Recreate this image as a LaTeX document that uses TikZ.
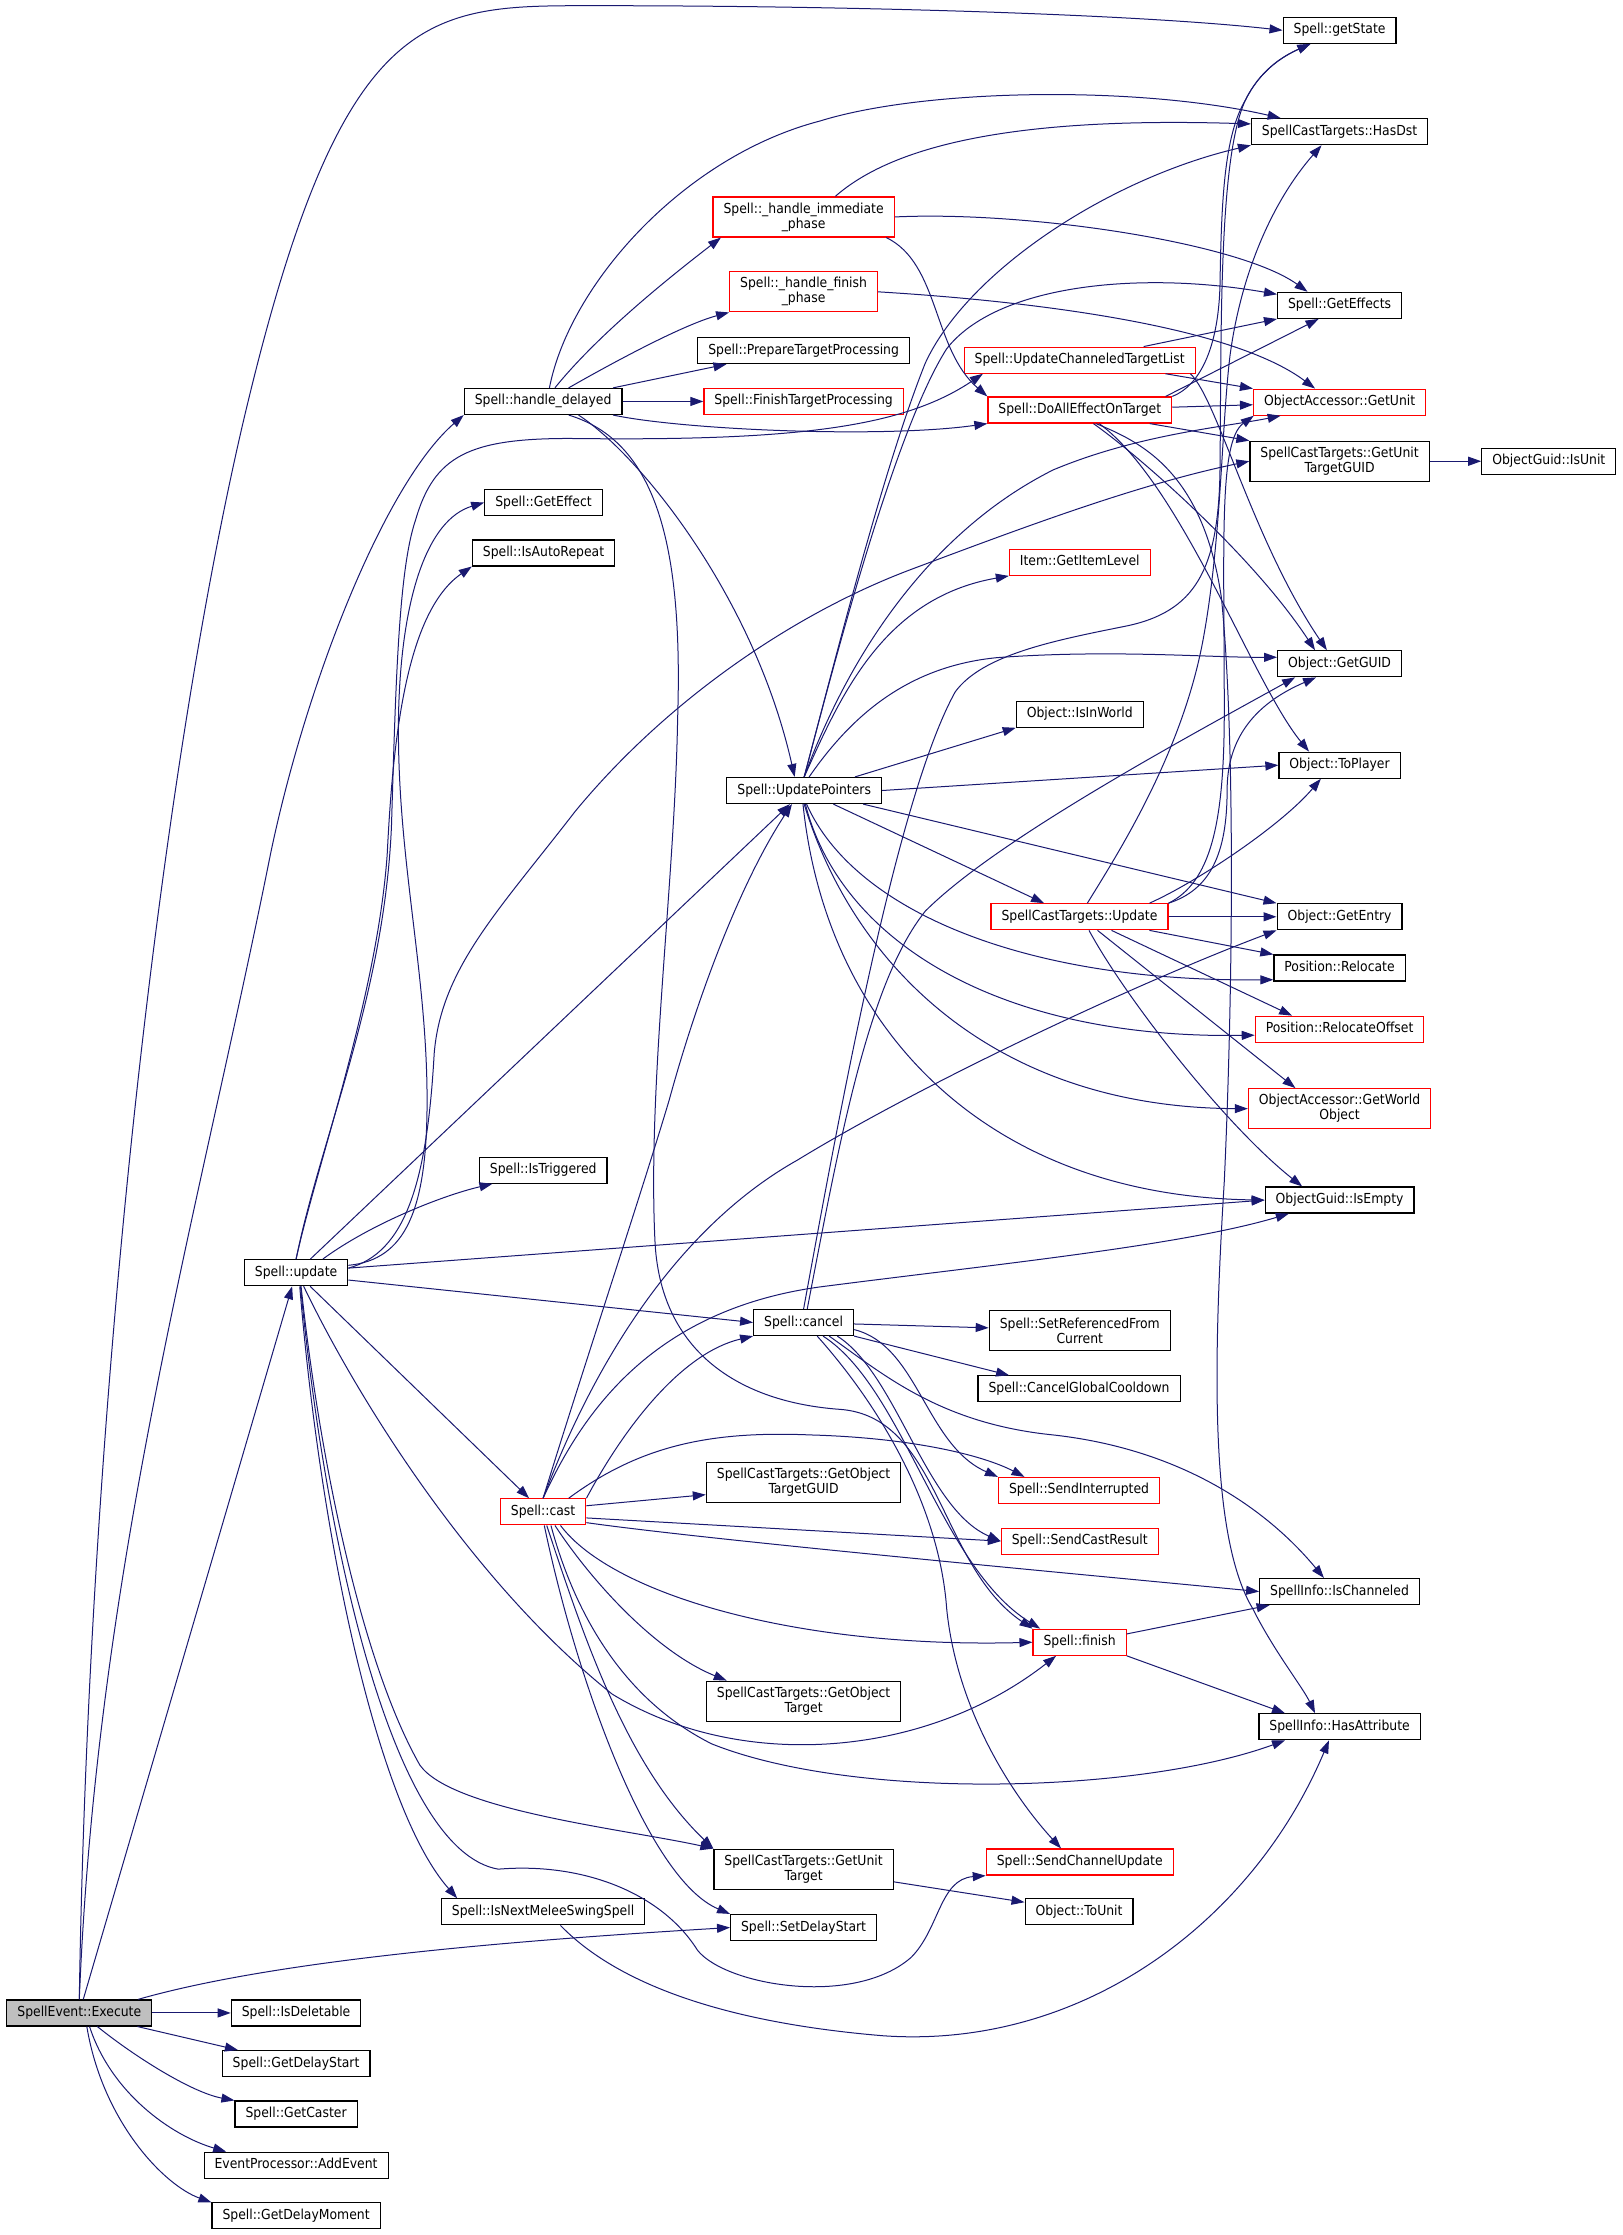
\documentclass[tikz,border=0pt]{standalone}
\usepackage{fontspec}
\setmainfont{DejaVu Sans Condensed}
\usetikzlibrary{arrows.meta}
\definecolor{MidBlue}{RGB}{25,25,112}
\begin{document}
\begin{tikzpicture}[x=1.4237pt,y=-1.4237pt,>={Triangle[length=13pt,width=9pt]},font=\fontsize{13.8}{15}\selectfont]
            \tikzset{Func/.style={draw=black,fill=white,line width=1.2pt,inner xsep=10.5pt,inner ysep=0pt,minimum height=26pt,text height=10pt,text depth=3pt}}
            \tikzset{Func2/.style={draw=black,fill=white,line width=1.2pt,inner xsep=10.5pt,inner ysep=5pt,minimum height=40pt,align=center}}
            \tikzset{Cut/.style={Func,draw=red}, Cut2/.style={Func2,draw=red}, Root/.style={Func,fill=black!25}}
            \tikzset{Edge/.style={->,draw=MidBlue,line width=1pt}}
            \path[use as bounding box,fill=white] (0,0) rectangle (1140,1570);
            \node[Func] (gs) at (941,21.3) {Spell::getState};
            \node[Func] (hdst) at (941,92.5) {SpellCastTargets::HasDst};
            \node[Cut2] (himm) at (564.5,152.4) {Spell::\_handle\_immediate\\\_phase};
            \node[Cut2] (hfin) at (564.5,205) {Spell::\_handle\_finish\\\_phase};
            \node[Func] (geffs) at (941,214.5) {Spell::GetEffects};
            \node[Func] (prep) at (564.5,246.3) {Spell::PrepareTargetProcessing};
            \node[Cut] (uctl) at (758.4,253) {Spell::UpdateChanneledTargetList};
            \node[Func] (hdel) at (381.5,282) {Spell::handle\_delayed};
            \node[Cut] (ftp) at (564.5,282) {Spell::FinishTargetProcessing};
            \node[Cut] (doall) at (758.5,288) {Spell::DoAllEffectOnTarget};
            \node[Cut] (ogu) at (941,282.5) {ObjectAccessor::GetUnit};
            \node[Func2] (gutg) at (941,324) {SpellCastTargets::GetUnit\\TargetGUID};
            \node[Func] (isunit) at (1088,324) {ObjectGuid::IsUnit};
            \node[Func] (geff) at (381.8,353) {Spell::GetEffect};
            \node[Func] (iar) at (381.8,388.4) {Spell::IsAutoRepeat};
            \node[Cut] (gil) at (758.5,395) {Item::GetItemLevel};
            \node[Func] (guid) at (941,466.3) {Object::GetGUID};
            \node[Func] (inw) at (758.5,501.7) {Object::IsInWorld};
            \node[Func] (toplayer) at (941,537.5) {Object::ToPlayer};
            \node[Func] (uptr) at (564.9,555.3) {Spell::UpdatePointers};
            \node[Cut] (sctu) at (758.3,644) {SpellCastTargets::Update};
            \node[Func] (gentry) at (941,644) {Object::GetEntry};
            \node[Func] (reloc) at (941,680) {Position::Relocate};
            \node[Cut] (reloff) at (941,723) {Position::RelocateOffset};
            \node[Cut2] (gwo) at (941,778.8) {ObjectAccessor::GetWorld\\Object};
            \node[Func] (itrig) at (381.6,822) {Spell::IsTriggered};
            \node[Func] (isempty) at (941,843) {ObjectGuid::IsEmpty};
            \node[Func] (su) at (208,894) {Spell::update};
            \node[Func] (canc) at (564.5,929) {Spell::cancel};
            \node[Func2] (srfc) at (758.5,934.6) {Spell::SetReferencedFrom\\Current};
            \node[Func] (cgc) at (758,975.6) {Spell::CancelGlobalCooldown};
            \node[Func2] (gotg) at (564.5,1041.5) {SpellCastTargets::GetObject\\TargetGUID};
            \node[Cut] (sint) at (758,1047) {Spell::SendInterrupted};
            \node[Cut] (cast) at (381.5,1062) {Spell::cast};
            \node[Cut] (scr) at (758.5,1082.6) {Spell::SendCastResult};
            \node[Func] (ischan) at (941,1118) {SpellInfo::IsChanneled};
            \node[Cut] (fin) at (758.4,1153.6) {Spell::finish};
            \node[Func2] (got) at (564.5,1195) {SpellCastTargets::GetObject\\Target};
            \node[Func] (hasattr) at (941,1213) {SpellInfo::HasAttribute};
            \node[Func2] (gut) at (564.5,1313) {SpellCastTargets::GetUnit\\Target};
            \node[Cut] (scu) at (758.5,1308) {Spell::SendChannelUpdate};
            \node[Func] (tounit) at (758,1343) {Object::ToUnit};
            \node[Func] (inms) at (381.5,1343) {Spell::IsNextMeleeSwingSpell};
            \node[Func] (sds) at (564.5,1354) {Spell::SetDelayStart};
            \node[Root] (E) at (55.7,1414) {SpellEvent::Execute};
            \node[Func] (isdel) at (208,1414) {Spell::IsDeletable};
            \node[Func] (gds) at (208,1449.6) {Spell::GetDelayStart};
            \node[Func] (gcast) at (208,1485) {Spell::GetCaster};
            \node[Func] (addev) at (208,1521) {EventProcessor::AddEvent};
            \node[Func] (gdm) at (208,1556.5) {Spell::GetDelayMoment};
            \draw[Edge] (E.north) .. controls (62,1000) and (110,560) .. (170,300) .. controls (240,0) and (300,4) .. (420,4) .. controls (600,4) and (800,10) .. (gs.west);
            \draw[Edge] (E.north) .. controls (68,1100) and (140,850) .. (190,600) .. controls (215,480) and (270,340) .. (hdel.south west);
            \draw[Edge] (E) -- (su);
            \draw[Edge] (E.13) .. controls (200,1375) and (380,1362) .. (sds.west);
            \draw[Edge] (E) -- (isdel);
            \draw[Edge] (E) -- (gds);
            \draw[Edge] (E.-37) .. controls (95,1445) and (135,1470) .. (gcast.north west);
            \draw[Edge] (E.-53) .. controls (78,1470) and (120,1500) .. (addev.169);
            \draw[Edge] (E.-61) .. controls (72,1490) and (115,1535) .. (gdm.171);
            \draw[Edge] (hdel.65) .. controls (400,200) and (480,110) .. (576,85) .. controls (650,62) and (800,60) .. (hdst.167);
            \draw[Edge] (hdel.49) .. controls (420,235) and (470,195) .. (himm.-166);
            \draw[Edge] (hdel.28) .. controls (430,255) and (480,228) .. (hfin.south west);
            \draw[Edge] (hdel.11) -- (prep.-170);
            \draw[Edge] (hdel) -- (ftp);
            \draw[Edge] (hdel.-11) .. controls (480,302) and (620,308) .. (doall.south west);
            \draw[Edge] (hdel.-21) .. controls (450,320) and (530,420) .. (uptr.125);
            \draw[Edge] (hdel.-28) .. controls (460,310) and (480,380) .. (476,505) .. controls (474,620) and (455,760) .. (460,870) .. controls (463,950) and (520,985) .. (590,990) .. controls (660,995) and (660,1100) .. (fin.north west);
            \draw[Edge] (himm.33) .. controls (630,100) and (720,82) .. (hdst.175);
            \draw[Edge] (himm.east) .. controls (720,148) and (870,170) .. (geffs.157);
            \draw[Edge] (himm.-14) .. controls (660,185) and (655,245) .. (doall.north west);
            \draw[Edge] (hfin.east) .. controls (700,210) and (860,225) .. (ogu.151);
            \draw[Edge] (uctl.12) -- (geffs.south west);
            \draw[Edge] (uctl.-9) -- (ogu.north west);
            \draw[Edge] (uctl.-7) .. controls (855,280) and (880,380) .. (guid.133);
            \draw[Edge] (doall.9) -- (geffs.-147);
            \draw[Edge] (doall) -- (ogu);
            \draw[Edge] (doall.-11) -- (gutg.north west);
            \draw[Edge] (doall.north east) .. controls (845,270) and (856,240) .. (857,200) .. controls (858,140) and (860,95) .. (875,70) .. controls (885,50) and (900,40) .. (gs.-155);
            \draw[Edge] (doall.-40) .. controls (800,310) and (845,330) .. (858,420) .. controls (868,520) and (866,700) .. (860,830) .. controls (852,960) and (850,1080) .. (880,1130) .. controls (895,1160) and (915,1185) .. (hasattr.151);
            \draw[Edge] (doall.-45) .. controls (800,320) and (880,390) .. (guid.151);
            \draw[Edge] (doall.-35) .. controls (830,340) and (880,480) .. (toplayer.156);
            \draw[Edge] (gutg) -- (isunit);
            \draw[Edge] (su.north) .. controls (225,800) and (270,700) .. (275,580) .. controls (278,480) and (280,400) .. (292,365) .. controls (305,320) and (330,308) .. (400,308) .. controls (560,310) and (635,300) .. (uctl.-172);
            \draw[Edge] (su.8) .. controls (285,885) and (300,850) .. (300,773) .. controls (300,680) and (278,600) .. (280,500) .. controls (282,420) and (300,365) .. (geff.west);
            \draw[Edge] (su.north) .. controls (222,820) and (265,700) .. (272,600) .. controls (276,520) and (285,430) .. (iar.south west);
            \draw[Edge] (su.5) .. controls (285,880) and (300,830) .. (305,740) .. controls (310,680) and (350,640) .. (404,570) .. controls (470,490) and (560,430) .. (640,400) .. controls (720,370) and (800,340) .. (gutg.west);
            \draw[Edge] (su.27) .. controls (260,860) and (310,840) .. (itrig.-165);
            \draw[Edge] (su) -- (uptr);
            \draw[Edge] (su.5) -- (isempty.west);
            \draw[Edge] (su.-8) -- (canc.west);
            \draw[Edge] (su) -- (cast);
            \draw[Edge] (su.-61) .. controls (250,980) and (330,1110) .. (430,1190) .. controls (520,1245) and (650,1235) .. (fin.-150);
            \draw[Edge] (su.-70) .. controls (225,1030) and (255,1170) .. (295,1240) .. controls (318,1272) and (440,1285) .. (gut.north west);
            \draw[Edge] (su.-75) .. controls (225,1080) and (265,1270) .. (inms.171);
            \draw[Edge] (su.-72) .. controls (228,1080) and (275,1300) .. (350,1313) .. controls (410,1308) and (465,1330) .. (490,1370) .. controls (510,1395) and (600,1410) .. (640,1375) .. controls (660,1355) and (660,1320) .. (scu.south west);
            \draw[Edge] (uptr.north) .. controls (585,470) and (620,330) .. (650,255) .. controls (680,190) and (780,125) .. (hdst.south west);
            \draw[Edge] (uptr.north) .. controls (590,450) and (630,300) .. (665,245) .. controls (700,200) and (800,190) .. (geffs.170);
            \draw[Edge] (uptr.north) .. controls (600,450) and (660,370) .. (740,330) .. controls (800,305) and (860,300) .. (ogu.-167);
            \draw[Edge] (uptr.north) .. controls (590,490) and (620,420) .. (gil.south west);
            \draw[Edge] (uptr.70) .. controls (600,500) and (640,468) .. (700,462) .. controls (780,456) and (850,462) .. (guid.174);
            \draw[Edge] (uptr.15) -- (inw.south west);
            \draw[Edge] (uptr.east) -- (toplayer.west);
            \draw[Edge] (uptr.-13) -- (gentry.north west);
            \draw[Edge] (uptr.-25) -- (sctu.159);
            \draw[Edge] (uptr.-80) .. controls (600,640) and (720,690) .. (reloc.-170);
            \draw[Edge] (uptr.-85) .. controls (590,660) and (700,730) .. (reloff.-176);
            \draw[Edge] (uptr.-90) .. controls (600,680) and (700,778) .. (gwo.west);
            \draw[Edge] (uptr.-95) .. controls (580,720) and (690,840) .. (isempty.west);
            \draw[Edge] (sctu.60) .. controls (785,600) and (830,530) .. (845,450) .. controls (858,380) and (858,300) .. (864,250) .. controls (872,190) and (895,140) .. (hdst.-143);
            \draw[Edge] (sctu.north east) .. controls (850,620) and (860,580) .. (860,500) .. controls (860,380) and (856,310) .. (ogu.-171);
            \draw[Edge] (sctu.north east) .. controls (850,625) and (862,600) .. (862,555) .. controls (862,520) and (880,495) .. (guid.-150);
            \draw[Edge] (sctu.11) .. controls (840,620) and (900,580) .. (toplayer.-144);
            \draw[Edge] (sctu.east) -- (gentry.west);
            \draw[Edge] (sctu.-11) -- (reloc.north west);
            \draw[Edge] (sctu.-23) -- (reloff.164);
            \draw[Edge] (sctu.-37) -- (gwo.155);
            \draw[Edge] (sctu.-55) .. controls (790,700) and (860,790) .. (isempty.160);
            \draw[Edge] (cast.north) .. controls (410,960) and (450,840) .. (470,773) .. controls (490,700) and (520,620) .. (uptr.-132);
            \draw[Edge] (cast.north) .. controls (420,950) and (480,860) .. (560,815) .. controls (650,760) and (800,690) .. (gentry.south west);
            \draw[Edge] (cast.north) .. controls (410,990) and (460,920) .. (576,904) .. controls (700,888) and (830,875) .. (isempty.-165);
            \draw[Edge] (cast.north east) .. controls (440,1000) and (480,950) .. (canc.south west);
            \draw[Edge] (cast.8) -- (gotg.-173);
            \draw[Edge] (cast.28) .. controls (450,1015) and (500,1005) .. (570,1008) .. controls (640,1010) and (690,1022) .. (sint.166);
            \draw[Edge] (cast.-8) -- (scr.west);
            \draw[Edge] (cast.-14) .. controls (500,1082) and (750,1105) .. (ischan.west);
            \draw[Edge] (cast.-38) .. controls (430,1120) and (560,1158) .. (fin.west);
            \draw[Edge] (cast.-49) .. controls (415,1110) and (460,1160) .. (got.165);
            \draw[Edge] (cast.-75) .. controls (410,1150) and (440,1240) .. (gut.north west);
            \draw[Edge] (cast.-85) .. controls (405,1180) and (455,1320) .. (sds.north west);
            \draw[Edge] (cast.-60) .. controls (400,1120) and (430,1190) .. (500,1225) .. controls (600,1265) and (800,1260) .. (hasattr.-166);
            \draw[Edge] (canc) -- (srfc);
            \draw[Edge] (canc.south east) -- (cgc.169);
            \draw[Edge] (canc.-8) .. controls (645,945) and (650,1015) .. (sint.north west);
            \draw[Edge] (canc.-22) .. controls (630,965) and (650,1060) .. (scr.west);
            \draw[Edge] (canc.-28) .. controls (620,965) and (660,1000) .. (740,1008) .. controls (830,1018) and (890,1060) .. (ischan.139);
            \draw[Edge] (canc.-35) .. controls (635,975) and (660,1100) .. (fin.161);
            \draw[Edge] (canc.-45) .. controls (620,990) and (660,1060) .. (665,1130) .. controls (672,1200) and (710,1260) .. (scu.144);
            \draw[Edge] (canc.north) .. controls (590,780) and (630,560) .. (671,486) .. controls (690,460) and (740,450) .. (790,440) .. controls (840,430) and (856,400) .. (857,330) .. controls (858,230) and (856,110) .. (875,70) .. controls (885,50) and (900,40) .. (gs.-155);
            \draw[Edge] (canc.75) .. controls (590,800) and (610,690) .. (650,640) .. controls (700,590) and (830,520) .. (guid.-163);
            \draw[Edge] (fin.10) -- (ischan.-169);
            \draw[Edge] (fin.south east) -- (hasattr.166);
            \draw[Edge] (gut.-8) -- (tounit.170);
            \draw[Edge] (inms.-38) .. controls (430,1390) and (500,1420) .. (620,1430) .. controls (760,1440) and (880,1350) .. (hasattr.-128);
\end{tikzpicture}
\end{document}
